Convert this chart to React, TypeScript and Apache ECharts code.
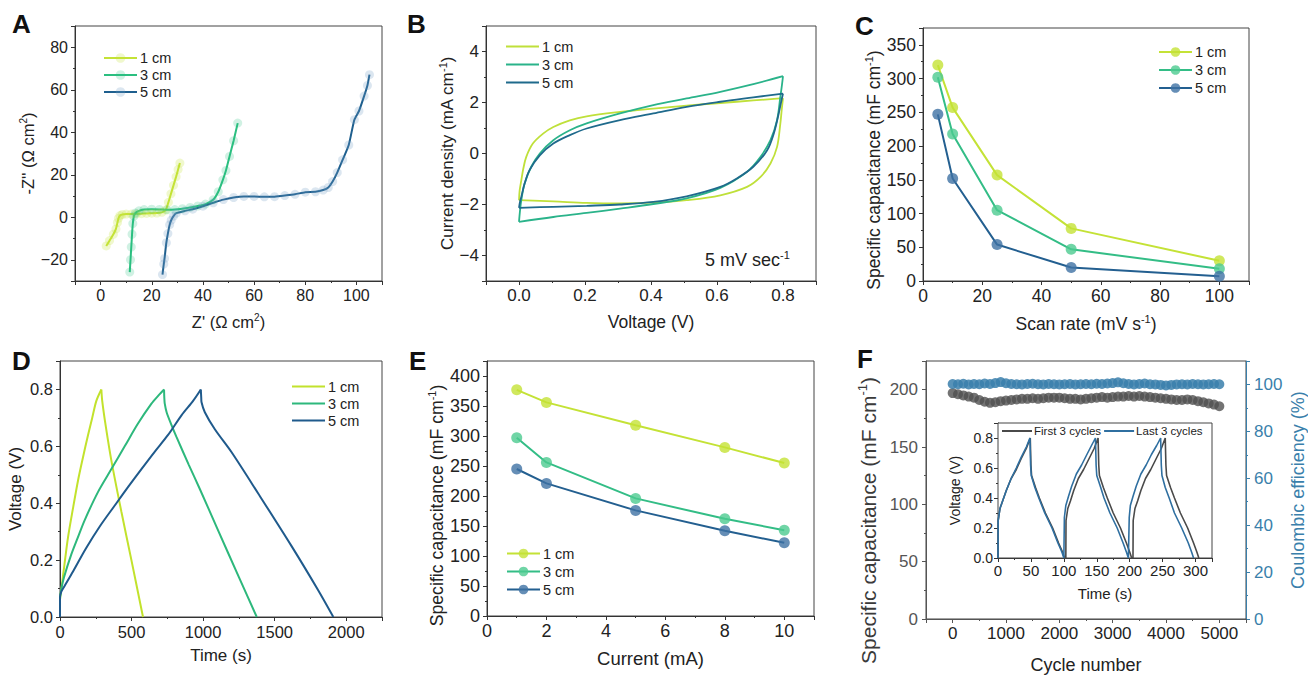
import React, { useEffect, useRef } from "react";
import * as echarts from "echarts";

const FONT = '"Liberation Sans", Arial, Helvetica, sans-serif';

// ---------- Panel A: Nyquist (Z', -Z'') ----------
const nyq1cm = [[2.2,-13.5],[3.5,-11],[5,-8],[6,-5.5],[6.6,-2.5],[7,-0.5],[7.6,0.8],[8.5,1.3],[10,1.5],[12,1.5],[14,1.6],[16,1.7],[18,1.8],[20,1.9],[22,2.0],[24,2.3],[25.5,3.5],[26.5,7],[27.5,11],[28.5,15],[29.5,19],[30.3,22.5],[31,25.5]];
const nyq3cm = [[11.4,-25.8],[11.7,-20],[12,-14],[12.3,-8],[12.6,-3],[13,0.5],[13.6,2],[15,3],[17,3.6],[20,3.8],[23,3.7],[26,3.5],[29,3.6],[32,4],[35,4.6],[38,5.3],[41,6.2],[44,8.2],[46,12],[47.8,17.6],[49,22],[50.4,28.6],[52,36],[53.6,44.3]];
const nyq5cm = [[24.2,-27],[24.7,-22],[25,-19.4],[25.7,-12],[26.3,-7.7],[27,-3.5],[27.6,-1.4],[28.5,0.5],[29.6,1.9],[33,3],[36,3.8],[40,5.2],[44,6.8],[48,8.3],[52,9.3],[56,9.8],[60,9.8],[64,9.6],[68,9.7],[72,10.2],[76,10.8],[80,11.8],[84,12],[87,12.8],[89,14],[90.7,16.8],[92.5,21],[94.6,27],[97,34],[99.2,45.9],[101,50],[103,57],[104.3,62],[105.1,67.1]];

// ---------- Panel B: CV loops (V, mA cm-1), anodic and cathodic branches ----------
const cv1cmUp = [[0,-1.83],[0.002,-1.45],[0.007,-1.05],[0.013,-0.6],[0.022,-0.13],[0.042,0.39],[0.073,0.78],[0.104,1.04],[0.154,1.3],[0.205,1.46],[0.306,1.63],[0.407,1.76],[0.508,1.88],[0.61,1.98],[0.71,2.08],[0.8,2.17]];
const cv1cmDown = [[0.8,2.17],[0.796,1.7],[0.792,1.18],[0.782,0.26],[0.762,-0.39],[0.732,-0.92],[0.691,-1.31],[0.61,-1.64],[0.508,-1.83],[0.407,-1.93],[0.306,-1.96],[0.205,-1.94],[0.104,-1.88],[0,-1.83]];
const cv3cmUp = [[0,-2.68],[0.003,-2.25],[0.007,-1.83],[0.017,-1.18],[0.037,-0.52],[0.063,0.0],[0.104,0.52],[0.154,0.91],[0.205,1.18],[0.306,1.57],[0.407,1.9],[0.508,2.16],[0.61,2.42],[0.71,2.72],[0.8,3.03]];
const cv3cmDown = [[0.8,3.03],[0.796,2.6],[0.792,2.23],[0.782,1.31],[0.762,0.52],[0.732,-0.13],[0.691,-0.72],[0.61,-1.35],[0.508,-1.76],[0.407,-1.98],[0.306,-2.16],[0.205,-2.33],[0.104,-2.49],[0,-2.68]];
const cv5cmUp = [[0,-2.13],[0.003,-1.9],[0.007,-1.7],[0.017,-1.18],[0.032,-0.65],[0.063,-0.07],[0.104,0.39],[0.154,0.72],[0.205,0.98],[0.306,1.31],[0.407,1.57],[0.508,1.83],[0.61,2.03],[0.71,2.2],[0.8,2.35]];
const cv5cmDown = [[0.8,2.35],[0.794,2.0],[0.787,1.57],[0.772,0.78],[0.752,0.13],[0.71,-0.52],[0.66,-0.98],[0.61,-1.31],[0.508,-1.68],[0.407,-1.9],[0.306,-2.0],[0.205,-2.05],[0.104,-2.09],[0,-2.13]];

// ---------- Panel C: capacitance vs scan rate ----------
const scanRates = [5, 10, 25, 50, 100];
const capScan1cm = [320, 257, 157, 78, 30];
const capScan3cm = [302, 218, 105, 47, 18];
const capScan5cm = [247, 152, 54, 20, 7];

// ---------- Panel D: GCD curves (s, V) ----------
const gcd1cmCharge = [[0,0],[0,0.06],[10,0.1],[30,0.18],[56,0.28],[90,0.38],[126,0.48],[160,0.56],[196,0.64],[225,0.7],[254,0.76],[289,0.8]];
const gcd1cmDischarge = [[289,0.8],[295,0.76],[320,0.67],[359,0.55],[429,0.37],[499,0.2],[580,0]];
const gcd3cmCharge = [[0,0],[0,0.06],[10,0.1],[28,0.14],[79,0.22],[125,0.28],[172,0.34],[266,0.44],[359,0.52],[452,0.6],[545,0.68],[639,0.75],[690,0.78],[727,0.8]];
const gcd3cmDischarge = [[727,0.8],[729,0.77],[732,0.75],[745,0.72],[775,0.68],[813,0.634],[900,0.535],[977,0.45],[1100,0.31],[1250,0.14],[1375,0]];
const gcd5cmCharge = [[0,0],[0,0.07],[10,0.09],[33,0.11],[91,0.16],[180,0.24],[280,0.32],[394,0.4],[480,0.46],[569,0.52],[660,0.58],[755,0.64],[850,0.71],[930,0.76],[984,0.8]];
const gcd5cmDischarge = [[984,0.8],[987,0.77],[989,0.755],[1012,0.72],[1082,0.66],[1198,0.58],[1384,0.435],[1617,0.25],[1803,0.095],[1910,0]];

// ---------- Panel E: capacitance vs current ----------
const currents = [1, 2, 5, 8, 10];
const capCur1cm = [377, 356, 318, 281, 255];
const capCur3cm = [297, 256, 196, 162, 143];
const capCur5cm = [245, 221, 176, 142, 122];

// ---------- Panel F: cycling ----------
const cycleNumbers = [0,100,200,300,400,500,600,700,800,900,1000,1100,1200,1300,1400,1500,1600,1700,1800,1900,2000,2100,2200,2300,2400,2500,2600,2700,2800,2900,3000,3100,3200,3300,3400,3500,3600,3700,3800,3900,4000,4100,4200,4300,4400,4500,4600,4700,4800,4900,5000];
const cycleCap = [197,196,195,194,193,191,189.5,188.5,189,190,190.5,191,191.5,192,192,192.5,192,192.5,193,193,193,192.5,192,192,191.5,192,192.5,193,193.5,193,193.5,194,194,194.5,194,194.5,194,193.5,193,192.5,192,191.5,191,191,191.5,191,190,189,188,187,185.5];
const cycleCE = [100.2,100.1,100.3,100.0,100.2,100.1,100.4,100.2,100.6,101.0,100.5,100.2,100.1,100.0,100.2,100.3,100.1,100.0,100.2,100.1,100.0,100.1,100.2,100.0,100.1,100.2,100.1,100.3,100.2,100.4,100.6,100.9,100.5,100.2,100.0,100.2,100.4,100.1,100.0,99.8,99.6,99.8,100.0,100.1,100.0,100.2,100.1,100.0,100.1,100.2,100.1];

// inset: first / last 3 cycles (s, V)
const firstCycles = [[0,0],[0.3,0.25],[3,0.33],[7,0.38],[12.6,0.45],[20,0.53],[27.8,0.59],[35,0.66],[43,0.73],[49,0.8],[50,0.62],[51,0.55],[57,0.47],[62.8,0.4],[72,0.3],[83,0.2],[92,0.1],[98,0.04],[101,0],[103,0],[103.3,0.25],[106,0.33],[110,0.38],[115,0.45],[122,0.53],[130,0.59],[138,0.66],[146,0.73],[152,0.8],[153,0.62],[154,0.55],[160,0.47],[166,0.4],[175,0.3],[186,0.2],[195,0.1],[200,0.04],[203,0],[205,0],[205.3,0.25],[208,0.33],[212,0.38],[217,0.45],[224,0.53],[232,0.59],[240,0.66],[248,0.73],[254,0.8],[255,0.62],[256,0.55],[262,0.47],[268,0.4],[277,0.3],[288,0.2],[297,0.1],[302,0.04],[305,0]];
const lastCycles = [[0,0],[0.3,0.25],[3,0.33],[7,0.38],[12.6,0.45],[20,0.53],[27.8,0.6],[35,0.67],[43,0.74],[48.5,0.8],[49.5,0.62],[50.5,0.55],[56,0.47],[62,0.4],[71,0.3],[82,0.2],[91,0.1],[97,0.04],[100,0],[100.5,0],[100.8,0.27],[103,0.35],[107,0.41],[112,0.48],[119,0.56],[127,0.62],[135,0.69],[142,0.75],[148,0.8],[149,0.62],[150,0.55],[156,0.47],[161,0.4],[170,0.3],[181,0.2],[190,0.1],[195,0.04],[198,0],[199,0],[199.3,0.27],[201,0.35],[205,0.41],[210,0.48],[217,0.56],[225,0.62],[233,0.69],[241,0.75],[247,0.8],[248,0.62],[249,0.55],[254,0.47],[260,0.4],[268,0.3],[279,0.2],[289,0.1],[294,0.04],[297,0]];

const C1 = "#c4e236";
const C3 = "#33bd86";
const C5 = "#235f90";
const C5m = "#3f72a4";
const GRAY = "#505050";
const FBLUE = "#3a7fab";

const supRich = (fs: number) => ({
  sup: { fontSize: Math.round(fs * 0.62), padding: [0, 0, Math.round(fs * 0.55), 0], fontFamily: FONT },
});

const minusFmt = (v: number) => (v < 0 ? "\u2212" + Math.abs(v) : String(v));
const intFmt = (v: number) => String(v);
const dec1 = (v: number) => v.toFixed(1);

function valAxis(o: any) {
  const color = o.color || "#333";
  const ax: any = {
    type: "value",
    gridIndex: o.grid,
    min: o.min,
    max: o.max,
    position: o.position,
    axisLine: { show: true, onZero: false, lineStyle: { color, width: 1 } },
    axisTick: { show: true, inside: false, length: 4, lineStyle: { color } },
    minorTick: { show: true, splitNumber: 2, length: 2, lineStyle: { color } },
    splitLine: { show: false },
    axisLabel: {
      fontSize: o.fs,
      color: o.labelColor || "#222",
      margin: o.margin ?? 6,
      showMinLabel: o.showMin ?? true,
      showMaxLabel: o.showMax ?? false,
      formatter: o.fmt || intFmt,
      fontFamily: FONT,
    },
    name: o.name,
    nameLocation: "middle",
    nameGap: o.gap,
    nameTextStyle: {
      fontSize: o.nfs, color: o.nameColor || "#222", fontFamily: FONT, rich: supRich(o.nfs),
      padding: o.namePad || 0,
    },
  };
  if (o.interval !== undefined) ax.interval = o.interval;
  if (o.splitNumber !== undefined) ax.splitNumber = o.splitNumber;
  return ax;
}

const gridBox = (left: number, top: number, width: number, height: number, extra: any = {}) => ({
  left, top, width, height, show: true, borderColor: "#444", borderWidth: 1, backgroundColor: "transparent", containLabel: false, ...extra,
});

const cmFmt = (n: string) => n.slice(1) + " cm";

function legendBox(names: string[], left: number, top: number, gap: number, lineOnly: boolean) {
  const lg: any = {
    orient: "vertical",
    left, top,
    padding: 0,
    itemWidth: 33,
    itemHeight: lineOnly ? 2.2 : 12,
    itemGap: gap,
    data: names,
    formatter: cmFmt,
    textStyle: { fontSize: 14.5, color: "#222", fontFamily: FONT, padding: [0, 0, 0, -2] },
    selectedMode: false,
  };
  if (lineOnly) lg.icon = "rect";
  return lg;
}

const lineSeries = (name: string, data: any, xi: number, color: string, extra: any = {}) => ({
  name, type: "line", xAxisIndex: xi, yAxisIndex: xi, data,
  symbol: "none", lineStyle: { color, width: 2 }, itemStyle: { color }, emphasis: { disabled: true },
  ...extra,
});

const pairs = (xs: number[], ys: number[]) => xs.map((x, i) => [x, ys[i]]);

const option: any = {
  animation: false,
  textStyle: { fontFamily: FONT },
  grid: [
    gridBox(75, 26, 307, 255),
    gridBox(486, 26, 330, 255),
    gridBox(923, 28, 326, 253),
    gridBox(60, 361, 322, 256),
    gridBox(487, 361, 327, 255),
    gridBox(926, 361, 321, 258),
    gridBox(998, 423, 214, 135, { backgroundColor: "#fff", z: 5 }),
  ],
  xAxis: [
    valAxis({ grid: 0, min: -10, max: 110, splitNumber: 6, showMin: false, fs: 16, name: "Z' (\u03A9 cm{sup|2})", nfs: 16.5, gap: 31 }),
    valAxis({ grid: 1, min: -0.1, max: 0.9, splitNumber: 5, showMin: false, fs: 17, fmt: dec1, name: "Voltage (V)", nfs: 17.5, gap: 32 }),
    valAxis({ grid: 2, min: 0, max: 110, interval: 20, fs: 17.5, name: "Scan rate (mV s{sup|-1})", nfs: 17.5, gap: 32 }),
    valAxis({ grid: 3, min: 0, max: 2250, interval: 500, fs: 16.5, name: "Time (s)", nfs: 17, gap: 30 }),
    valAxis({ grid: 4, min: 0, max: 11, interval: 2, fs: 18, name: "Current (mA)", nfs: 18.5, gap: 33 }),
    valAxis({ grid: 5, min: -500, max: 5500, splitNumber: 6, showMin: false, fs: 17, name: "Cycle number", nfs: 18, gap: 37, color: "#555" }),
    valAxis({ grid: 6, min: 0, max: 325, interval: 50, fs: 15, name: "Time (s)", nfs: 15, gap: 28, margin: 5 }),
  ],
  yAxis: [
    valAxis({ grid: 0, min: -30, max: 90, splitNumber: 6, showMin: false, fs: 16, fmt: minusFmt, name: "-Z'' (\u03A9 cm{sup|2})", nfs: 16.5, gap: 36, margin: 7 }),
    valAxis({ grid: 1, min: -5, max: 5, splitNumber: 5, showMin: false, fs: 17, fmt: minusFmt, name: "Current density (mA cm{sup|-1})", nfs: 17, gap: 27, margin: 7 }),
    valAxis({ grid: 2, min: 0, max: 375, interval: 50, fs: 17.5, name: "Specific capacitance (mF cm{sup|-1})", nfs: 17.5, gap: 37, margin: 7, namePad: [0, 31, 0, 0] }),
    valAxis({ grid: 3, min: 0, max: 0.9, interval: 0.2, fs: 16.5, fmt: dec1, name: "Voltage (V)", nfs: 17, gap: 36, margin: 7 }),
    valAxis({ grid: 4, min: 0, max: 425, interval: 50, fs: 18, name: "Specific capacitance (mF cm{sup|-1})", nfs: 17.7, gap: 37, margin: 7, namePad: [0, 34, 0, 0] }),
    valAxis({ grid: 5, min: 0, max: 225, interval: 50, fs: 17, name: "Specific capacitance (mF cm{sup|-1})", nfs: 21, gap: 45, margin: 8, color: "#555", labelColor: "#555", nameColor: "#3a3a3a", namePad: [0, 61, 0, 0] }),
    valAxis({ grid: 5, min: 0, max: 110, interval: 20, position: "right", fs: 17, name: "Coulombic efficiency (%)", nfs: 18, gap: 43, margin: 8, color: FBLUE, labelColor: FBLUE, nameColor: FBLUE }),
    valAxis({ grid: 6, min: 0, max: 0.9, interval: 0.2, fs: 14, fmt: dec1, name: "Voltage (V)", nfs: 14, gap: 36, margin: 5 }),
  ],
  legend: [
    legendBox(["A1", "A3", "A5"], 103, 50.5, 2, false),
    legendBox(["B1", "B3", "B5"], 506, 39, 3, true),
    legendBox(["C1", "C3", "C5"], 1158, 44.5, 3, false),
    legendBox(["D1", "D3", "D5"], 292, 379, 2, true),
    legendBox(["E1", "E3", "E5"], 506, 546, 3, false),
    {
      orient: "horizontal", left: 1002, top: 425, padding: 0, itemWidth: 30, itemHeight: 2, itemGap: 3, icon: "rect",
      data: ["First 3 cycles", "Last 3 cycles"], selectedMode: false, z: 10,
      textStyle: { fontSize: 11.5, color: "#222", fontFamily: FONT, padding: [0, 0, 0, -3] },
    },
  ],
  series: [
    lineSeries("A1", nyq1cm, 0, C1, { smooth: 0.2, symbol: "circle", symbolSize: 9, itemStyle: { color: C1, opacity: 0.25 } }),
    lineSeries("A3", nyq3cm, 0, "#2bbf80", { smooth: 0.2, symbol: "circle", symbolSize: 9, itemStyle: { color: "#2bbf80", opacity: 0.22 } }),
    lineSeries("A5", nyq5cm, 0, "#1e5f8e", { smooth: 0.2, symbol: "circle", symbolSize: 9, itemStyle: { color: "#6f9cc4", opacity: 0.25 } }),

    lineSeries("B1", cv1cmUp, 1, "#bfe03a", { smooth: 0.35, lineStyle: { color: "#bfe03a", width: 1.8 } }),
    lineSeries("B1", cv1cmDown, 1, "#bfe03a", { smooth: 0.35, lineStyle: { color: "#bfe03a", width: 1.8 } }),
    lineSeries("B3", cv3cmUp, 1, "#2ab38a", { smooth: 0.35, lineStyle: { color: "#2ab38a", width: 1.8 } }),
    lineSeries("B3", cv3cmDown, 1, "#2ab38a", { smooth: 0.35, lineStyle: { color: "#2ab38a", width: 1.8 } }),
    lineSeries("B5", cv5cmUp, 1, "#1f6a8c", { smooth: 0.35, lineStyle: { color: "#1f6a8c", width: 1.8 } }),
    lineSeries("B5", cv5cmDown, 1, "#1f6a8c", { smooth: 0.35, lineStyle: { color: "#1f6a8c", width: 1.8 } }),

    lineSeries("C1", pairs(scanRates, capScan1cm), 2, C1, { symbol: "circle", symbolSize: 11, itemStyle: { color: C1, opacity: 0.8 } }),
    lineSeries("C3", pairs(scanRates, capScan3cm), 2, C3, { symbol: "circle", symbolSize: 11, itemStyle: { color: "#4ccb90", opacity: 0.8 } }),
    lineSeries("C5", pairs(scanRates, capScan5cm), 2, C5, { symbol: "circle", symbolSize: 11, itemStyle: { color: C5m, opacity: 0.8 } }),

    lineSeries("D1", gcd1cmCharge, 3, "#c2e22c", { smooth: 0.3 }),
    lineSeries("D1", gcd1cmDischarge, 3, "#c2e22c", { smooth: 0.3 }),
    lineSeries("D3", gcd3cmCharge, 3, "#2db87c", { smooth: 0.3 }),
    lineSeries("D3", gcd3cmDischarge, 3, "#2db87c", { smooth: 0.3 }),
    lineSeries("D5", gcd5cmCharge, 3, "#1f5a8c", { smooth: 0.3 }),
    lineSeries("D5", gcd5cmDischarge, 3, "#1f5a8c", { smooth: 0.3 }),

    lineSeries("E1", pairs(currents, capCur1cm), 4, C1, { symbol: "circle", symbolSize: 11, itemStyle: { color: C1, opacity: 0.8 } }),
    lineSeries("E3", pairs(currents, capCur3cm), 4, C3, { symbol: "circle", symbolSize: 11, itemStyle: { color: "#4ccb90", opacity: 0.8 } }),
    lineSeries("E5", pairs(currents, capCur5cm), 4, C5, { symbol: "circle", symbolSize: 11, itemStyle: { color: C5m, opacity: 0.8 } }),

    { name: "Capacitance", type: "scatter", xAxisIndex: 5, yAxisIndex: 5, data: pairs(cycleNumbers, cycleCap), symbolSize: 10, itemStyle: { color: GRAY, opacity: 0.8 }, emphasis: { disabled: true } },
    { name: "Coulombic efficiency", type: "scatter", xAxisIndex: 5, yAxisIndex: 6, data: pairs(cycleNumbers, cycleCE), symbolSize: 10, itemStyle: { color: FBLUE, opacity: 0.85 }, emphasis: { disabled: true } },

    { name: "First 3 cycles", type: "line", xAxisIndex: 6, yAxisIndex: 7, data: firstCycles, symbol: "none", lineStyle: { color: "#4a4a4a", width: 1.6 }, itemStyle: { color: "#4a4a4a" }, z: 6, emphasis: { disabled: true } },
    { name: "Last 3 cycles", type: "line", xAxisIndex: 6, yAxisIndex: 7, data: lastCycles, symbol: "none", lineStyle: { color: "#2f6fa0", width: 1.6 }, itemStyle: { color: "#2f6fa0" }, z: 6, emphasis: { disabled: true } },
  ],
  graphic: [
    ...[["A", 12, 11], ["B", 407, 11], ["C", 855, 13], ["D", 12, 348], ["E", 409, 348], ["F", 857, 346]].map(([t, x, y]) => ({
      type: "text", left: x, top: y, style: { text: t, font: `bold 26px ${FONT}`, fill: "#111" },
    })),
    {
      type: "text", left: 705, top: 249,
      style: { text: "5 mV sec{sup|-1}", font: `18px ${FONT}`, fill: "#222", rich: { sup: { fontSize: 11, padding: [0, 0, 10, 0], fontFamily: FONT, fill: "#222" } } },
    },
  ],
};

export default function App() {
  const ref = useRef<HTMLDivElement>(null);
  useEffect(() => {
    if (!ref.current) return;
    const chart = echarts.init(ref.current, null, { renderer: "svg" });
    chart.setOption(option);
    return () => chart.dispose();
  }, []);
  return <div ref={ref} style={{ position: "fixed", left: 0, top: 0, width: 1308, height: 675, background: "#fff" }} />;
}
